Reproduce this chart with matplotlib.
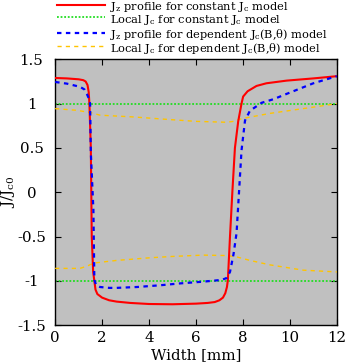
"""Current density profiles across the strip width: constant vs field-dependent Jc."""

import matplotlib

matplotlib.use("Agg")
import matplotlib.pyplot as plt
from matplotlib.lines import Line2D
import numpy as np

# ---- data ----------------------------------------------------------------- #
x_red = [0, 0.5, 1.0, 1.2, 1.3, 1.38, 1.43, 1.46, 1.52, 1.56, 1.62, 1.67, 1.72,
         1.8, 2.0, 2.3, 2.62, 3.2, 4.0, 5.0, 6.0, 6.5, 6.8, 7.0, 7.15, 7.25,
         7.32, 7.36, 7.45, 7.55, 7.66, 7.8, 7.94, 8.01, 8.2, 8.58, 9.0, 9.86,
         11.0, 12.0]
y_red = [1.29, 1.285, 1.275, 1.265, 1.25, 1.21, 1.13, 1.0, 0.5, -0.5, -0.9,
         -1.0, -1.1, -1.15, -1.19, -1.22, -1.235, -1.25, -1.262, -1.265,
         -1.258, -1.25, -1.24, -1.22, -1.19, -1.14, -1.07, -0.99, -0.5, 0.0,
         0.5, 0.8, 1.0, 1.08, 1.14, 1.2, 1.23, 1.26, 1.285, 1.31]

x_blue = [0, 0.5, 1.06, 1.25, 1.35, 1.45, 1.49, 1.52, 1.63, 1.67, 1.75, 1.91,
          2.3, 2.62, 3.5, 4.5, 5.3, 6.3, 7.09, 7.3, 7.45, 7.6, 7.73, 7.8, 7.94,
          8.09, 8.3, 8.8, 9.3, 9.86, 11.0, 12.0]
y_blue = [1.245, 1.226, 1.19, 1.16, 1.11, 1.05, 1.0, 0.45, -0.2, -0.99, -1.05,
          -1.07, -1.08, -1.08, -1.07, -1.05, -1.03, -1.01, -0.99, -0.97, -0.9,
          -0.7, -0.46, -0.15, 0.47, 0.81, 0.92, 1.01, 1.05, 1.11, 1.23, 1.31]

x_green = [0, 12]
y_green_pos = [1.0, 1.0]
y_green_neg = [-1.0, -1.0]

x_orange_pos = [0, 0.92, 1.5, 1.91, 3.33, 4.9, 6.0, 7.3, 7.6, 7.94, 9.15, 10.57, 12]
y_orange_pos = [0.944, 0.925, 0.90, 0.87, 0.85, 0.82, 0.80, 0.79, 0.80, 0.83,
                0.89, 0.944, 1.0]
x_orange_neg = [0, 1.06, 1.4, 1.63, 2.62, 4.04, 5.0, 6.3, 7.3, 7.73, 8.3, 9.15,
                10.57, 12]
y_orange_neg = [-0.86, -0.86, -0.83, -0.80, -0.77, -0.74, -0.725, -0.71,
                -0.715, -0.73, -0.77, -0.82, -0.88, -0.90]

x_ticks = [0, 2, 4, 6, 8, 10, 12]
y_ticks = [-1.5, -1, -0.5, 0, 0.5, 1, 1.5]
y_ticklabels = ["-1.5", "-1", "-0.5", "0", "0.5", "1", "1.5"]

labels = [
    r"J$_\mathrm{z}$ profile for constant J$_\mathrm{c}$ model",
    r"Local J$_\mathrm{c}$ for constant J$_\mathrm{c}$ model",
    r"J$_\mathrm{z}$ profile for dependent J$_\mathrm{c}$(B,θ) model",
    r"Local J$_\mathrm{c}$ for dependent J$_\mathrm{c}$(B,θ) model",
]

# ---- plot ------------------------------------------------------------------ #
plt.rcParams["font.family"] = ["DejaVu Serif"]
plt.rcParams["mathtext.fontset"] = "dejavuserif"

W, H = 349, 362
fig = plt.figure(figsize=(W / 100, H / 100), dpi=100)
ax = fig.add_axes([0.158, 0.102, 0.807, 0.734])
ax.set_facecolor("#c0c0c0")

green = "#22dd22"
orange = "#ffc400"
styles = [
    dict(color="#ff0000", lw=1.5, ls="-"),
    dict(color=green, lw=1.3, ls=(0, (1, 1))),
    dict(color="#0000ff", lw=1.6, ls=(0, (2, 2))),
    dict(color=orange, lw=1.0, ls=(0, (3, 3))),
]

ax.plot(x_red, y_red, zorder=4, **styles[0])
ax.plot(x_green, y_green_pos, zorder=2, **styles[1])
ax.plot(x_green, y_green_neg, zorder=2, **styles[1])
ax.plot(x_blue, y_blue, zorder=5, **styles[2])
ax.plot(x_orange_pos, y_orange_pos, zorder=3, **styles[3])
ax.plot(x_orange_neg, y_orange_neg, zorder=3, **styles[3])

ax.set_xlim(0, 12)
ax.set_ylim(-1.5, 1.5)
ax.set_xticks(x_ticks)
ax.set_yticks(y_ticks)
ax.set_yticklabels(y_ticklabels, ha="center")
ax.tick_params(direction="in", top=True, right=True, length=4, width=0.8,
               labelsize=10.8)
ax.tick_params(axis="x", pad=4)
ax.tick_params(axis="y", pad=17)
for s in ax.spines.values():
    s.set_linewidth(1.0)

ax.set_xlabel("Width [mm]", fontsize=10.8)
ax.set_ylabel(r"J/J$_\mathrm{c0}$", fontsize=10.8)
ax.xaxis.set_label_coords(0.5, -0.088)
ax.yaxis.set_label_coords(-0.135, 0.5)

# key above the axes, laid out by hand (pixels from the top)
line_y = [4.5, 17, 32.5, 46]
base_y = [10.5, 23, 37.5, 52]
for ly, by, st, lab in zip(line_y, base_y, styles, labels):
    fig.add_artist(Line2D([57 / W, 105 / W], [1 - ly / H, 1 - ly / H],
                          transform=fig.transFigure, **st))
    fig.text(110 / W, 1 - by / H, lab, fontsize=8.2, va="baseline", ha="left")

fig.savefig("out.png", dpi=100)
